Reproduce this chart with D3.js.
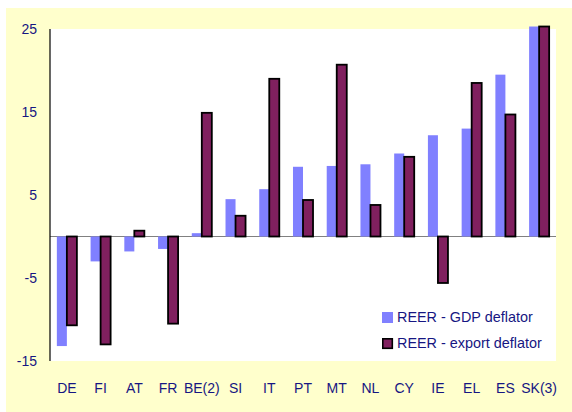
<!DOCTYPE html>
<html>
<head>
<meta charset="utf-8">
<script src="https://d3js.org/d3.v7.min.js"></script>
<style>
  body { margin: 0; background: #fff; }
  svg { display: block; }
  text { font-family: "Liberation Sans", Arial, sans-serif; fill: #161682; }
</style>
</head>
<body>
<svg width="572" height="412"></svg>
<script>
// data
var countries = ["DE","FI","AT","FR","BE(2)","SI","IT","PT","MT","NL","CY","IE","EL","ES","SK(3)"];
var gdpDeflator = [-13.2, -3.0, -1.8, -1.5, 0.4, 4.5, 5.7, 8.4, 8.5, 8.7, 10.0, 12.2, 13.0, 19.5, 25.3];
var exportDeflator = [-10.7, -13.0, 0.7, -10.5, 14.9, 2.5, 19.0, 4.4, 20.7, 3.8, 9.6, -5.6, 18.5, 14.7, 25.3];
var yTicks = [25, 15, 5, -5, -15];
var seriesNames = ["REER - GDP deflator", "REER - export deflator"];

var svg = d3.select("svg");
var margin = {left: 50, right: 16, top: 29, bottom: 51};
var width = 572 - margin.left - margin.right;
var height = 412 - margin.top - margin.bottom;

// yellow frame
svg.append("rect")
  .attr("x", 6).attr("y", 8)
  .attr("width", 566).attr("height", 404)
  .attr("fill", "#ffffcc");

var g = svg.append("g")
  .attr("transform", "translate(" + margin.left + "," + margin.top + ")");

g.append("rect")
  .attr("width", width).attr("height", height)
  .attr("fill", "#fff");

var x = d3.scaleBand().domain(countries).range([0, width]);
var y = d3.scaleLinear().domain([-15, 25]).range([height, 0]);
var barW = x.bandwidth() * 0.297;
var pad = (x.bandwidth() - 2 * barW) / 2;

// zero line
g.append("line")
  .attr("x1", 0).attr("x2", width)
  .attr("y1", y(0)).attr("y2", y(0))
  .attr("stroke", "#808080").attr("stroke-width", 1.2);

g.selectAll(".gdp")
  .data(countries)
  .enter().append("rect")
  .attr("class", "gdp")
  .attr("x", function(d) { return x(d) + pad; })
  .attr("y", function(d, i) { return y(Math.max(0, gdpDeflator[i])); })
  .attr("width", barW)
  .attr("height", function(d, i) { return Math.abs(y(gdpDeflator[i]) - y(0)); })
  .attr("fill", "#8080ff");

g.selectAll(".exp")
  .data(countries)
  .enter().append("rect")
  .attr("class", "exp")
  .attr("x", function(d) { return x(d) + pad + barW; })
  .attr("y", function(d, i) { return y(Math.max(0, exportDeflator[i])); })
  .attr("width", barW)
  .attr("height", function(d, i) { return Math.abs(y(exportDeflator[i]) - y(0)); })
  .attr("fill", "#80205f")
  .attr("stroke", "#000")
  .attr("stroke-width", 1.8);

// y axis
g.append("line")
  .attr("x1", 0).attr("x2", 0)
  .attr("y1", 0).attr("y2", height)
  .attr("stroke", "#000").attr("stroke-width", 1.2);

g.selectAll(".ylab")
  .data(yTicks)
  .enter().append("text")
  .attr("x", -13)
  .attr("y", function(d) { return y(d); })
  .attr("dy", "0.36em")
  .attr("text-anchor", "end")
  .attr("font-size", 14)
  .text(function(d) { return d; });

g.selectAll(".xlab")
  .data(countries)
  .enter().append("text")
  .attr("x", function(d) { return x(d) + x.bandwidth() / 2; })
  .attr("y", height + 32)
  .attr("text-anchor", "middle")
  .attr("font-size", 14)
  .text(function(d) { return d; });

// legend
var legend = svg.append("g").attr("transform", "translate(382,312)");
legend.append("rect")
  .attr("width", 11).attr("height", 11)
  .attr("fill", "#8080ff");
legend.append("rect")
  .attr("x", 0.8).attr("y", 26.8)
  .attr("width", 9.5).attr("height", 9.5)
  .attr("fill", "#80205f").attr("stroke", "#000").attr("stroke-width", 1.6);
legend.selectAll("text")
  .data(seriesNames)
  .enter().append("text")
  .attr("x", 15)
  .attr("y", function(d, i) { return 10 + i * 25.5; })
  .attr("font-size", 14.4)
  .text(function(d) { return d; });
</script>
</body>
</html>
